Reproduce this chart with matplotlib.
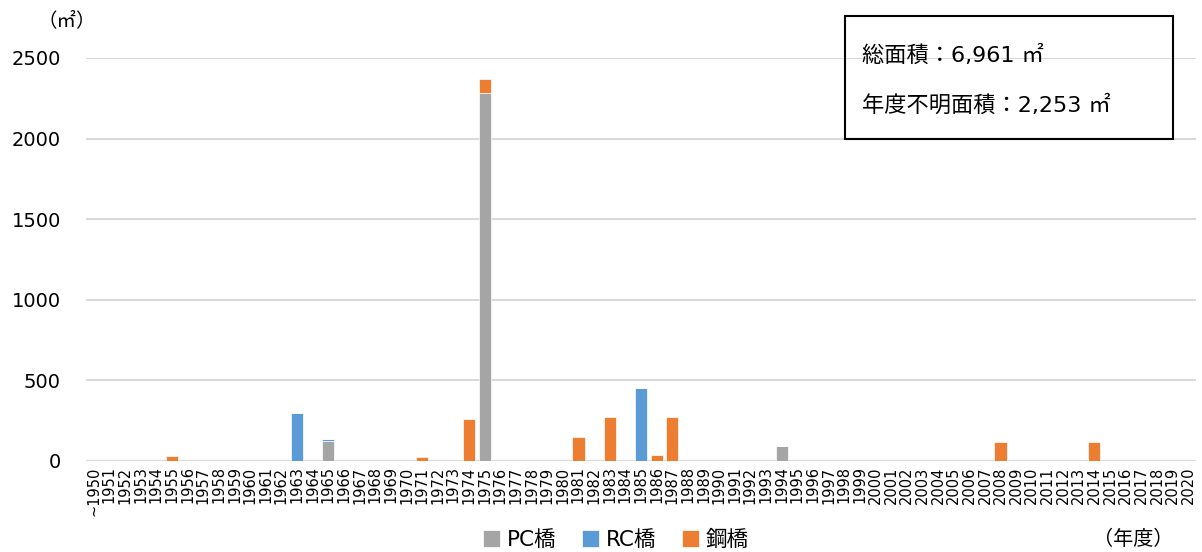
import matplotlib
matplotlib.use("Agg")
import matplotlib.pyplot as plt
import numpy as np

plt.rcParams['font.family'] = ['DejaVu Sans', 'Noto Sans CJK JP']

# 年度ラベル（~1950 ～ 2020）
years = ['~1950'] + [str(y) for y in range(1951, 2021)]

# 橋種別の面積（㎡）
pc_area = {1965: 125, 1975: 2280, 1994: 95}
rc_area = {1963: 300, 1965: 12, 1985: 455}
steel_area = {1955: 30, 1971: 23, 1974: 260, 1975: 92, 1981: 150, 1983: 275,
              1986: 37, 1987: 275, 2008: 120, 2014: 120}

total_text = '総面積：6,961 ㎡'
unknown_text = '年度不明面積：2,253 ㎡'


def to_series(d):
    vals = np.zeros(len(years))
    for y, v in d.items():
        vals[y - 1950] = v
    return vals


pc = to_series(pc_area)
rc = to_series(rc_area)
steel = to_series(steel_area)

fig = plt.figure(figsize=(12.02, 5.52), dpi=100)
ax = fig.add_axes([0.0715, 0.165, 0.9235, 0.73])

x = np.arange(len(years))
w = 0.78
ax.bar(x, pc, w, color='#a5a5a5', edgecolor='white', linewidth=0.5, label='PC橋', zorder=3)
ax.bar(x, rc, w, bottom=pc, color='#5b9bd5', edgecolor='white', linewidth=0.5, label='RC橋', zorder=3)
ax.bar(x, steel, w, bottom=pc + rc, color='#ed7d31', edgecolor='white', linewidth=0.5, label='鋼橋', zorder=3)

ax.set_xlim(-0.5, len(years) - 0.5)
ax.set_ylim(0, 2500)
ax.set_yticks([0, 500, 1000, 1500, 2000, 2500])
ax.set_xticks(x)
ax.set_xticklabels(years, rotation=90, fontsize=10.5)
ax.tick_params(axis='y', length=0, pad=18, labelsize=14)
ax.tick_params(axis='x', length=0, pad=4)
ax.grid(axis='y', color='#d9d9d9', linewidth=1.5, zorder=0)
for s in ax.spines.values():
    s.set_visible(False)
ax.axhline(0, color='#d9d9d9', linewidth=1.5, zorder=2)

cjk = ['Noto Sans CJK JP', 'DejaVu Sans']
fig.text(0.031, 0.963, '（㎡）', fontsize=14, va='center', ha='left', family=cjk)
fig.text(0.976, 0.022, '（年度）', fontsize=14.5, va='center', ha='right', family=cjk)

# 面積の注記
fig.text(0.717, 0.9, total_text, fontsize=16, va='center', ha='left')
fig.text(0.717, 0.81, unknown_text, fontsize=16, va='center', ha='left')
fig.add_artist(plt.Rectangle((845 / 1202, 1 - 139 / 552), 328 / 1202, 123 / 552,
                             transform=fig.transFigure, fill=False,
                             edgecolor='black', linewidth=1.5))

fig.legend(loc='center', bbox_to_anchor=(616 / 1202, 1 - 540 / 552), ncol=3,
           frameon=False, fontsize=15.5, handlelength=0.8, handleheight=0.8,
           handletextpad=0.3, columnspacing=1.2)

fig.savefig('out.png', dpi=100)
